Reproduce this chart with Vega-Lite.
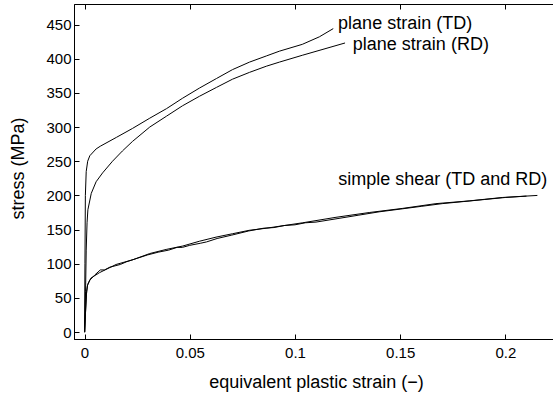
{
  "$schema": "https://vega.github.io/schema/vega-lite/v6.json",
  "autosize": "none",
  "padding": {"left": 74, "top": 4, "right": 0, "bottom": 56},
  "width": 484,
  "height": 335,
  "background": "white",
  "config": {
    "font": "Liberation Sans",
    "view": {"stroke": "black", "strokeWidth": 1},
    "axis": {"grid": false, "domainColor": "black", "tickColor": "black", "labelColor": "black", "titleColor": "black", "labelFont": "Liberation Sans", "titleFont": "Liberation Sans", "titleFontWeight": "normal", "labelFontSize": 15, "titleFontSize": 18, "tickSize": -5, "labelOverlap": false, "labelFlush": false}
  },
  "datasets": {
    "curves": [
      {"series": "TD", "strain": 0, "stress": 0},
      {"series": "TD", "strain": 0.0002, "stress": 100},
      {"series": "TD", "strain": 0.0004, "stress": 200},
      {"series": "TD", "strain": 0.0008, "stress": 235},
      {"series": "TD", "strain": 0.0015, "stress": 250},
      {"series": "TD", "strain": 0.0025, "stress": 258},
      {"series": "TD", "strain": 0.0055, "stress": 268},
      {"series": "TD", "strain": 0.0075, "stress": 272},
      {"series": "TD", "strain": 0.0152, "stress": 285},
      {"series": "TD", "strain": 0.0228, "stress": 298},
      {"series": "TD", "strain": 0.031, "stress": 313},
      {"series": "TD", "strain": 0.039, "stress": 327},
      {"series": "TD", "strain": 0.0465, "stress": 342},
      {"series": "TD", "strain": 0.0546, "stress": 357},
      {"series": "TD", "strain": 0.0627, "stress": 371},
      {"series": "TD", "strain": 0.0703, "stress": 384},
      {"series": "TD", "strain": 0.0784, "stress": 395},
      {"series": "TD", "strain": 0.0864, "stress": 404},
      {"series": "TD", "strain": 0.0926, "stress": 411},
      {"series": "TD", "strain": 0.1035, "stress": 421},
      {"series": "TD", "strain": 0.1116, "stress": 432},
      {"series": "TD", "strain": 0.1182, "stress": 444},
      {"series": "RD", "strain": 0.0001, "stress": 0},
      {"series": "RD", "strain": 0.0005, "stress": 60},
      {"series": "RD", "strain": 0.0008, "stress": 120},
      {"series": "RD", "strain": 0.0012, "stress": 160},
      {"series": "RD", "strain": 0.0016, "stress": 179},
      {"series": "RD", "strain": 0.0032, "stress": 203},
      {"series": "RD", "strain": 0.0055, "stress": 220},
      {"series": "RD", "strain": 0.0086, "stress": 233},
      {"series": "RD", "strain": 0.0133, "stress": 250},
      {"series": "RD", "strain": 0.018, "stress": 265},
      {"series": "RD", "strain": 0.0228, "stress": 279},
      {"series": "RD", "strain": 0.031, "stress": 300},
      {"series": "RD", "strain": 0.039, "stress": 316},
      {"series": "RD", "strain": 0.0465, "stress": 331},
      {"series": "RD", "strain": 0.0546, "stress": 345},
      {"series": "RD", "strain": 0.0627, "stress": 358},
      {"series": "RD", "strain": 0.0703, "stress": 370},
      {"series": "RD", "strain": 0.0784, "stress": 380},
      {"series": "RD", "strain": 0.0864, "stress": 389},
      {"series": "RD", "strain": 0.0926, "stress": 395},
      {"series": "RD", "strain": 0.1035, "stress": 405},
      {"series": "RD", "strain": 0.1238, "stress": 423},
      {"series": "SA", "strain": 0, "stress": 0},
      {"series": "SA", "strain": 0.0005, "stress": 30},
      {"series": "SA", "strain": 0.001, "stress": 60},
      {"series": "SA", "strain": 0.0015, "stress": 70},
      {"series": "SA", "strain": 0.003, "stress": 79},
      {"series": "SA", "strain": 0.0071, "stress": 87},
      {"series": "SA", "strain": 0.015, "stress": 99},
      {"series": "SA", "strain": 0.023, "stress": 106},
      {"series": "SA", "strain": 0.031, "stress": 115},
      {"series": "SA", "strain": 0.0388, "stress": 121},
      {"series": "SA", "strain": 0.0467, "stress": 126},
      {"series": "SA", "strain": 0.0546, "stress": 133},
      {"series": "SA", "strain": 0.0625, "stress": 139},
      {"series": "SA", "strain": 0.0704, "stress": 144},
      {"series": "SA", "strain": 0.0783, "stress": 149},
      {"series": "SA", "strain": 0.0863, "stress": 152},
      {"series": "SA", "strain": 0.1037, "stress": 160},
      {"series": "SA", "strain": 0.1195, "stress": 168},
      {"series": "SA", "strain": 0.1353, "stress": 175},
      {"series": "SA", "strain": 0.1511, "stress": 181},
      {"series": "SA", "strain": 0.167, "stress": 188},
      {"series": "SA", "strain": 0.1828, "stress": 192},
      {"series": "SA", "strain": 0.1986, "stress": 197},
      {"series": "SA", "strain": 0.2152, "stress": 200},
      {"series": "SB", "strain": 0.0001, "stress": 0},
      {"series": "SB", "strain": 0.0004, "stress": 25},
      {"series": "SB", "strain": 0.0009, "stress": 55},
      {"series": "SB", "strain": 0.0014, "stress": 68},
      {"series": "SB", "strain": 0.0025, "stress": 76},
      {"series": "SB", "strain": 0.005, "stress": 84},
      {"series": "SB", "strain": 0.0075, "stress": 91},
      {"series": "SB", "strain": 0.0095, "stress": 91},
      {"series": "SB", "strain": 0.012, "stress": 95},
      {"series": "SB", "strain": 0.0145, "stress": 97},
      {"series": "SB", "strain": 0.017, "stress": 99},
      {"series": "SB", "strain": 0.02, "stress": 103},
      {"series": "SB", "strain": 0.025, "stress": 108},
      {"series": "SB", "strain": 0.03, "stress": 113},
      {"series": "SB", "strain": 0.035, "stress": 117},
      {"series": "SB", "strain": 0.04, "stress": 120},
      {"series": "SB", "strain": 0.044, "stress": 124},
      {"series": "SB", "strain": 0.0465, "stress": 124},
      {"series": "SB", "strain": 0.05, "stress": 127},
      {"series": "SB", "strain": 0.055, "stress": 130},
      {"series": "SB", "strain": 0.058, "stress": 132},
      {"series": "SB", "strain": 0.063, "stress": 137},
      {"series": "SB", "strain": 0.07, "stress": 142},
      {"series": "SB", "strain": 0.078, "stress": 148},
      {"series": "SB", "strain": 0.085, "stress": 152},
      {"series": "SB", "strain": 0.09, "stress": 153},
      {"series": "SB", "strain": 0.095, "stress": 156},
      {"series": "SB", "strain": 0.1, "stress": 157},
      {"series": "SB", "strain": 0.105, "stress": 160},
      {"series": "SB", "strain": 0.11, "stress": 161},
      {"series": "SB", "strain": 0.12, "stress": 166},
      {"series": "SB", "strain": 0.13, "stress": 171},
      {"series": "SB", "strain": 0.14, "stress": 176},
      {"series": "SB", "strain": 0.15, "stress": 180},
      {"series": "SB", "strain": 0.16, "stress": 184},
      {"series": "SB", "strain": 0.17, "stress": 188},
      {"series": "SB", "strain": 0.18, "stress": 191},
      {"series": "SB", "strain": 0.19, "stress": 194},
      {"series": "SB", "strain": 0.2, "stress": 197},
      {"series": "SB", "strain": 0.21, "stress": 199}
    ],
    "labels": [
      {"label": "plane strain (TD)", "strain": 0.1205, "stress": 443},
      {"label": "plane strain (RD)", "strain": 0.1275, "stress": 412},
      {"label": "simple shear (TD and RD)", "strain": 0.1206, "stress": 215}
    ]
  },
  "resolve": {"axis": {"x": "independent"}},
  "layer": [
    {
      "data": {"name": "curves"},
      "mark": {"type": "line", "color": "black", "strokeWidth": 1, "clip": true},
      "encoding": {
        "x": {"field": "strain", "type": "quantitative", "scale": {"domain": [-0.005, 0.225], "nice": false, "zero": false},
              "axis": {"orient": "bottom", "title": "equivalent plastic strain (−)", "values": [0, 0.05, 0.1, 0.15, 0.2], "format": "~g", "labelPadding": 11, "labelOverlap": false, "titleY": 48, "titleBaseline": "alphabetic"}},
        "y": {"field": "stress", "type": "quantitative", "scale": {"domain": [-10, 480], "nice": false, "zero": false},
              "axis": {"title": "stress (MPa)", "values": [0, 50, 100, 150, 200, 250, 300, 350, 400, 450], "tickCount": 10, "format": "d", "labelPadding": 8, "labelOverlap": false, "labelBound": false, "labelSeparation": 0, "titleX": -50.5, "titleY": 164, "titleBaseline": "alphabetic"}},
        "detail": {"field": "series", "type": "nominal"}
      }
    },
    {
      "data": {"name": "labels"},
      "mark": {"type": "text", "align": "left", "baseline": "alphabetic", "fontSize": 18, "color": "black", "font": "Liberation Sans"},
      "encoding": {
        "x": {"field": "strain", "type": "quantitative",
              "axis": {"orient": "top", "labels": false, "title": null, "domain": false, "values": [0, 0.05, 0.1, 0.15, 0.2]}},
        "y": {"field": "stress", "type": "quantitative",
              "axis": {"title": "stress (MPa)", "values": [0, 50, 100, 150, 200, 250, 300, 350, 400, 450], "tickCount": 10, "format": "d", "labelPadding": 8, "labelOverlap": false, "labelBound": false, "labelSeparation": 0, "titleX": -50.5, "titleY": 164, "titleBaseline": "alphabetic"}},
        "text": {"field": "label", "type": "nominal"}
      }
    }
  ]
}
